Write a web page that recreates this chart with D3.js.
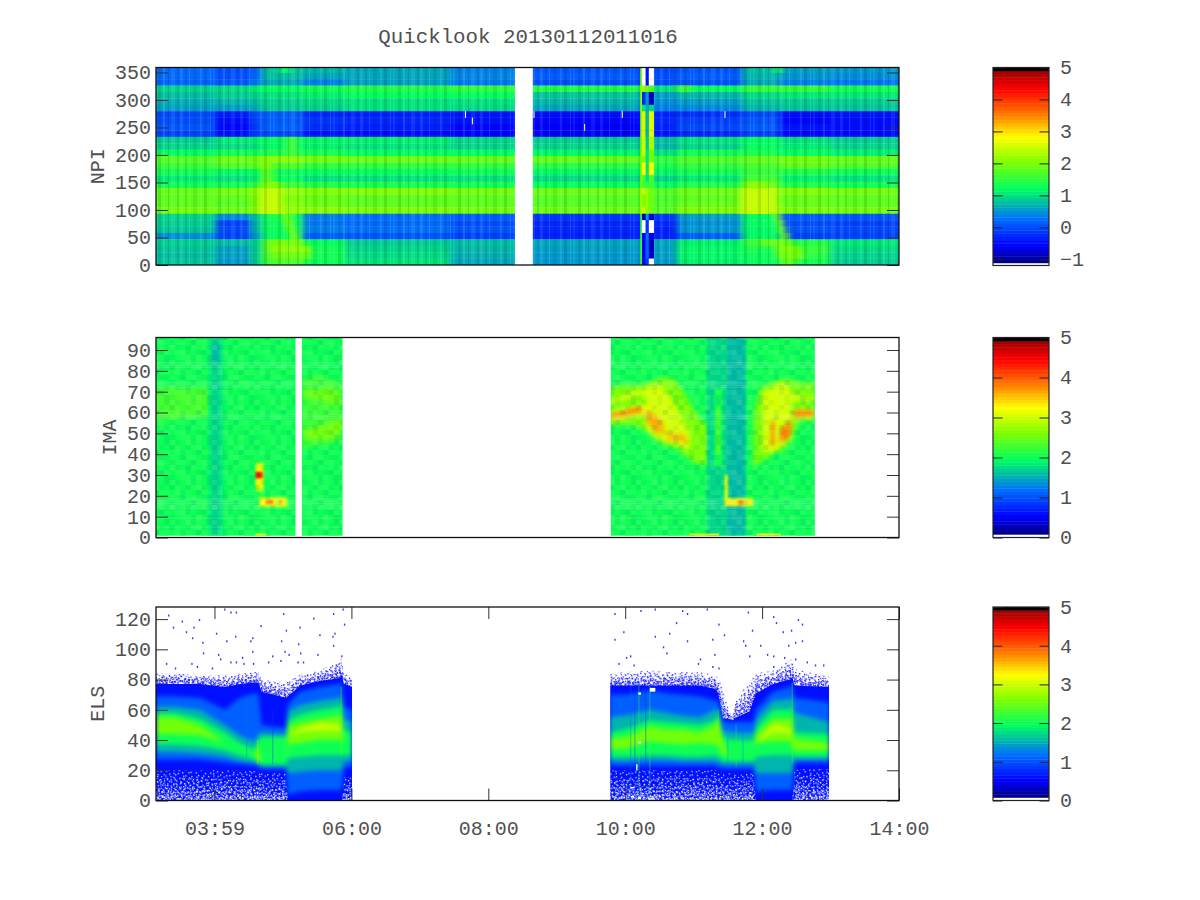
<!DOCTYPE html>
<html><head><meta charset="utf-8">
<script src="https://cdn.jsdelivr.net/npm/d3@7"></script>
<style>
html,body{margin:0;padding:0;background:#fff}
svg{display:block}
text{font-family:"Liberation Mono",monospace;fill:#505050}
</style></head><body><div id="chart"></div>
<script>
// ---------- labels ----------
const titleText = "Quicklook 20130112011016";
const xTickHours = [3.999, 6, 8, 10, 12, 14];
const xTickLabels = ["03:59", "06:00", "08:00", "10:00", "12:00", "14:00"];
const npiTicks = [0, 50, 100, 150, 200, 250, 300, 350];
const imaTicks = [0, 10, 20, 30, 40, 50, 60, 70, 80, 90];
const elsTicks = [0, 20, 40, 60, 80, 100, 120];
const npiBarTicks = [-1, 0, 1, 2, 3, 4, 5];
const npiBarLabels = ["−1", "0", "1", "2", "3", "4", "5"];
const otherBarTicks = [0, 1, 2, 3, 4, 5];

// ---------- palette ----------
const paletteStops = [0, .09, .227, .31, .38, .517, .645, .756, .89, .98];
const paletteColors = ["#000080", "#0000ff", "#0070ff", "#00c0a0", "#00ff60", "#80ff00", "#ffff00", "#ff8000", "#ff0000", "#a00000"];

// ---------- NPI: rows listed top first ----------
const npiRowHeight = 11.65;
const npiColEdges = [3.06, 4.02, 4.52, 4.69, 5.29, 5.91, 7.44, 8.46, 10.22, 10.76, 11.71, 12.26, 12.99, 14.09];
const npiRows = [
[.2,0,.2,.8,.7,.6,.35,.05,-.05,.05,.75,.55,.5],
[.2,0,.2,.75,.6,.6,.4,.1,0,.1,.7,.5,.45],
[.15,.05,.3,.6,.35,.55,.3,0,-.05,0,.6,.35,.3],
[.9,.95,1.1,1.2,1.3,1.4,1.5,1.4,1,1.2,1.5,1.5,1.3],
[.75,.85,.9,1,1.1,1.2,1.2,.8,.55,.7,.95,1.05,1.05],
[.65,.7,.75,.9,.95,1,1,.7,.45,.55,.8,.85,.85],
[.55,.55,.65,.85,.9,1,.95,.6,.35,.4,.7,.8,.8],
[-.05,-.4,0,.1,-.3,-.35,-.45,-.5,-.35,-.25,-.05,-.5,-.45],
[0,-.5,-.05,.1,-.2,-.3,-.45,-.55,-.3,-.1,.05,-.55,-.5],
[.05,-.55,-.1,.15,-.25,-.35,-.55,-.6,-.35,-.05,.1,-.45,-.5],
[-.1,-.5,-.15,-.05,-.45,-.5,-.6,-.65,-.45,-.3,-.1,-.55,-.55],
[.85,1.05,1.1,1.2,1.15,1.1,.9,.85,.75,1,1.2,1,.85],
[.9,.95,1,1.15,1.1,1,.9,.9,.7,.9,1.2,1.05,.9],
[1.2,1.3,1.3,1.4,1.35,1.2,1.2,1.15,1,1.3,1.35,1.2,1.1],
[1.75,1.9,1.9,2.1,1.95,1.9,1.85,1.85,1.5,1.7,1.85,1.95,1.85],
[1.55,1.7,1.8,1.7,1.5,1.5,1.5,1.45,1.35,1.5,1.65,1.8,1.7],
[1.3,1.15,1.2,1.25,1.2,1.2,1.25,1.15,1.15,1.3,1.5,1.35,1.25],
[1.05,1,1.1,1.2,1,1,1,.95,.9,1.05,1.6,1.1,1],
[1.3,1.3,1.5,1.6,1.4,1.35,1.3,1.25,1.2,1.4,1.9,1.4,1.3],
[1.85,1.95,2.1,2.15,2.05,2.05,1.95,1.9,1.75,1.9,2.2,2.05,1.95],
[1.8,1.8,2,2,1.85,1.8,1.8,1.75,1.65,1.8,2.15,1.85,1.8],
[1.8,1.75,2,2.05,1.9,1.8,1.8,1.75,1.7,1.85,2.2,1.85,1.8],
[1.95,1.9,2.1,2.15,2.1,2,1.95,1.9,1.75,2,2.25,2,1.95],
[.9,.4,.8,1.3,.35,.25,.1,-.2,-.2,.55,1.2,.1,.05],
[.85,-.1,.7,1.25,.3,.2,0,-.3,-.3,.45,1.2,0,-.1],
[.8,-.05,.7,1.25,.35,.25,.05,-.3,-.35,.5,1.15,.05,-.05],
[.45,-.1,.5,1.2,.1,.05,-.1,-.35,-.35,.1,1.15,-.1,-.1],
[.85,.75,.9,1.5,1.2,.85,.75,.6,.6,1.1,1.55,1.4,1.05],
[.8,.55,.85,1.7,1.3,.9,.7,.55,.55,1.15,1.35,1.55,.95],
[.75,.55,.85,1.6,1.3,.95,.65,.5,.55,1.15,1.25,1.45,.9],
[.8,.5,.85,1.55,1.25,1,.6,.5,.5,1.1,1.2,1.3,.85]];
// t0, t1, first row, last row (0 = bottom), value
const npiPatches = [
[4.66,4.98,8,11,2.45],[4.68,4.95,12,12,2.05],[4.68,4.85,13,14,1.8],[4.68,4.8,15,16,2.05],
[5,5.1,7,7,2],[5.03,5.13,6,6,2],[5.08,5.17,5,5,2],[5.1,5.22,4,4,1.9],
[4.75,5.3,3,3,1.95],[4.8,5.4,2,2,2.1],[4.8,5.4,1,1,1.9],[4.85,5.3,0,0,1.7],
[4.96,5.1,30,30,1.2],[5.05,5.2,17,19,1.6],
[11.68,12.18,8,11,2.45],[11.75,12.05,12,12,2.1],[12.19,12.26,7,7,2.1],[12.22,12.3,6,6,2],
[12.25,12.33,5,5,2],[12.28,12.38,4,4,1.9],[12,12.42,3,3,1.85],[12.2,12.55,2,2,2],
[12.22,12.6,1,1,1.95],[12.25,12.5,0,0,1.8],[12.2,12.28,30,30,1.3],[10.76,10.95,27,27,1.6]];
const npiGap = [8.39, 8.65];
const npiSpikeEdges = [[10.22,10.245],[10.245,10.3],[10.3,10.345],[10.345,10.42]];
// spike columns, top row first; null means no data
const npiSpike0 = [2,2,2,2.2,2.2,2.2,2.2,2.2,2.2,2.2,2.2,2,2,2,2,2,2,2,2,2.3,2.3,2.3,2.3,1.6,1.6,1.6,1.6,1.6,1.6,1.6,1.6];
const npiSpike1 = [null,null,null,2.2,-.3,-.3,1,2.5,2.5,2.5,2.5,2.5,2.5,2.5,2,2.8,2.8,1.6,1.6,2.4,2,2,2.4,-.9,null,null,-.6,-.6,-.6,-.6,-.6];
const npiSpike2 = [-.5,-.5,-.5,2,.5,.5,.6,.7,.7,.7,.7,.8,.8,1,1,1,1,1,1.5,2.2,2.2,2.2,2.2,.5,-.2,-.2,.3,.1,.1,.1,-.2];
const npiSpike3 = [null,null,null,1.7,-.9,-.9,.9,2.6,2.6,2.6,2.6,2.3,2.3,1.9,1.9,2.8,2.8,1.6,1.6,1.9,1.9,1.9,1.9,-.7,null,null,-.7,-.9,-.9,-.8,null];
const npiSpecks = [[7.66,23],[7.76,22],[9.95,23],[9.4,21],[11.45,23],[8.66,23]];
const npiStripeTile = [[0,3,.09],[5,2,-.09],[9,1,.13],[13,4,-.08],[20,2,.1],[24,3,-.11],[30,1,.12],[33,2,.07],[38,3,-.1],[43,2,.12],[48,1,-.13],[51,4,.08],[57,2,-.09]];

// ---------- IMA ----------
const imaSegments = [[3.145,5.183],[5.278,5.87],[9.79,12.77]];
const imaBase = 2.02;
const imaYMin = 0.9;
// value, times, lower edge, upper edge
const imaAreas = [
[2.3,[3.145,3.9,4.1],[56,58,60],[72,72,71]],
[2.25,[5.28,5.5,5.87],[43,44,46],[76,78,74]],
[2.55,[5.3,5.5,5.75,5.87],[47,47,47,52],[52,53,56,58]],
[2.5,[5.3,5.5,5.7,5.87],[67,66,64,64],[71,71,72,68]],
[2.6,[9.78,9.92,10.12,10.31,10.48,10.61,10.75,10.85,11,11.09,11.24,11.34],[54,54,54,51,46,44,43,40,36,35,35,42],[72,73,73,74,76,77,75,70,62,57,53,48]],
[3,[9.78,9.92,10.12,10.3],[64,65.5,67,68],[66,68,70,71]],
[3.05,[10.3,10.48,10.61,10.75,10.85,10.95],[52,47,46,44,43,43],[72,74,70,62,56,50]],
[3.2,[9.78,9.92,10.12,10.25,10.35],[56,56.5,58,59,58],[60.5,61.5,63,64,62]],
[3.85,[9.78,9.92,10.12,10.25],[57.5,58,59.5,60.5],[59.5,60,62,62.5]],
[3.6,[10.3,10.4,10.48,10.56],[56,52,50,50],[61,60,58,55]],
[3.5,[10.6,10.75,10.9],[47,46,45],[51,50,49]],
[2.55,[11.87,11.97,12.16,12.31,12.43,12.55,12.77],[34,36,40,42,46,56,56],[60,72,75,76,76,74,75]],
[3.05,[12,12.16,12.31,12.43],[41,41,44,48],[70,72,75,70]],
[3,[12.43,12.55,12.77],[65,65.5,66],[70,68,68]],
[3.3,[12.46,12.55,12.77],[56.5,57,57.5],[61.5,62,61.5]],
[3.9,[12.46,12.55,12.77],[58,58.3,58.7],[60.5,61,60.5]],
[3.8,[12.13,12.18],[44,44],[56,56]],
[3.8,[12.26,12.34,12.42],[45,47,49],[52,54,57]]];
// t0, t1, y0, y1, value
const imaRects = [
[3.905,4.15,.9,96,1.86],[3.96,4.08,.9,96,1.72],[3.96,4.08,84,93,1.58],
[11.19,11.77,.9,96,1.74],[11.49,11.75,.9,96,1.58],[11.3,11.42,34,72,2.05],[11.34,11.38,40,62,2.45],
[4.6,4.72,22,36,2.9],[4.62,4.7,24,35,3.3],[4.6,4.7,28.5,31.5,4.4],
[4.65,5.07,14.5,19.5,2.8],[4.67,5.03,15.5,18.5,3.25],[4.75,4.86,16,18,3.9],[4.95,5,16,18,3.6],
[11.45,11.5,17,30,3.1],[11.45,11.87,15,19,3],[11.47,11.85,15.5,18,3.35],[11.65,11.72,15.8,17.8,3.9]];
const imaBottomStrips = [[4.6,4.76,3.1],[10.94,11.37,3.3],[11.92,12.27,3.3]];
const imaLightRows = [84,83.2,82.4,81.7,74.5,73.7,72.9,72.1,58.8,58,57.2,18.6,17.9,17.1,16.3,15.5,14.7,13.9,9.3,5];
const imaTile = [1,-1,0,2,-1,1,0,-2, -2,1,0,-1,1,2,-1,0, 0,2,-1,1,0,-2,1,1, 1,0,-2,1,2,0,-1,-1, -1,1,1,0,-2,1,2,0, 2,-1,0,-2,1,0,1,-1, 0,1,2,-1,0,-1,-2,1, -1,0,1,1,-1,2,0,-2];

// ---------- ELS: edges per time knot ----------
// L1lo L2lo L3lo L4lo L5lo L6lo L6hi L5hi L4hi L3hi L2hi L1hi fringe
const elsLevelValues = [.62, 1.1, 1.55, 2.02, 2.55, 2.95];
const elsLeftT = [3.145,3.42,3.79,4.15,4.37,4.59,4.64,4.69,5.045,5.075,5.25,5.54,5.83,5.86,5.89,6.01];
const elsLeft = [
[21,27,32,37,44,48,48,55,58,62,69,78,84],
[21,27,32,37,44,48,48,55,58,62,69,78,84],
[21,27,31,36,43,46,46,50,54,60,68,78,83],
[21,25,29,33,38,38,38,38,45,50,60,76,83],
[21,24,26,30,32,32,32,32,38,43,68,78,84],
[21,23,25,27,29,29,29,29,34,39,71,79,85],
[20,22,24,25,26,33,33,38,40,44,70,79,85],
[19,21,22,24,24,24,24,24,42,45,50,73,80],
[19,21,22,24,24,24,24,24,42,44,48,69,78],
[0,4,18,28,37,42,42,49,53,59,64,70,79],
[0,6,19,29,38,45,48,52,57,63,72,77,83],
[0,7,20,30,40,46,52,54,60,66,75,80,86],
[0,7,20,30,40,46,50,56,62,68,77,82,93],
[0,7,20,30,40,46,46,57,66,70,78,84,94],
[16,22,26,30,36,36,36,36,47,54,62,78,84],
[16,22,26,30,36,36,36,36,45,52,60,76,82]];
const elsRightT = [9.78,10,10.36,10.6,10.85,11.09,11.31,11.36,11.43,11.5,11.56,11.63,11.82,11.88,11.91,12.16,12.41,12.44,12.47,12.98];
const elsRight = [
[21,23,26,29,34,37,37,41,45,55,70,77,84],
[21,23,26,29,34,38,38,42,47,56,70,77,85],
[21,23,27,30,39,43,43,49,53,60,73,77,86],
[21,23,27,30,38,42,42,47,52,58,71,77,85],
[21,23,26,29,37,41,41,47,51,56,70,77,85],
[21,23,26,29,38,41,41,45,50,55,69,77,85],
[21,23,26,30,37,42,42,50,53,60,66,75,83],
[20,22,25,29,36,42,42,55,57,61,66,72,81],
[19,21,24,26,30,34,34,40,42,46,52,55,74],
[19,21,24,26,30,30,30,30,41,46,52,55,62],
[19,21,24,26,30,30,30,30,40,45,52,54,56],
[19,21,24,26,30,30,30,30,40,45,52,56,68],
[19,21,24,26,30,30,30,30,40,45,52,60,79],
[19,21,24,26,30,30,30,30,40,45,52,68,82],
[0,6,18,29,38,38,38,44,48,54,60,72,84],
[0,7,18,30,39,45,51,54,60,66,72,78,86],
[0,7,18,30,39,44,48,54,60,67,75,81,93],
[0,7,18,30,36,42,42,56,64,70,78,83,94],
[22,25,27,29,33,37,37,41,45,58,68,77,87],
[22,25,27,29,33,36,36,38,44,52,65,76,82]];
const elsDotT = [3.32,3.52,3.77,3.39,3.69,3.58,4.02,4.3,3.67,3.82,4.17,4.52,4.55,4.67,5.04,5.24,5.53,5.75,5.72,5.89,5.44,5.73,5,4.23,4.31,4.14,5.87,4.97,5.22,5.73,3.83,4.05,4.4,4.55,4.84,5.02,5.08,5.25,5.5,5.85,4.08,3.29,3.66,4.23,4.31,4.42,4.56,4.78,4.96,5.21,5.29,5.77,3.42,3.74,3.96,
9.84,10.22,10.83,10.9,10.43,11.19,11.79,12.16,12.2,12.52,12.58,10.74,11.36,9.97,10.64,11.44,11.85,12.3,12.42,10.43,9.84,10.9,11.27,11.72,12.48,12.58,12.38,11.97,10.55,11.75,10.6,11.3,10.07,11.81,12.07,12.16,10.01,12.32,11.09,12.48,12.65,9.9,11.06,11.27,12.77,12.89,10.12,11.36,12.16];
const elsDotY = [123,119,120,115,115,112,111,109,108,105,106,106,108,116,113,115,110,111,109,117,121,124,124,125,125,127,127,106,104,103,98,97,95,99,96,99,97,98,97,96,94,91,91,92,92,91,91,92,93,92,92,90,88,89,88,
124,126,126,124,127,127,125,122,118,120,117,118,117,112,111,110,113,112,113,109,107,106,107,106,105,106,103,103,102,103,98,97,96,96,97,96,95,95,94,94,92,91,91,89,90,90,90,88,89];
// t, y0, y1, value
const elsStreaks = [[10.08,0,80,1.1],[10.14,0,78,.8],[10.2,0,78,2.2],[10.3,0,78,.7],[10.36,0,76,2.3],[11.36,30,60,2.5],[11.5,24,45,1.3],[11.62,22,50,2.2],[11.72,24,48,1.2],[12.44,25,78,2.6],[4.47,28,70,1.2],[4.63,24,40,2.9],[5.85,30,75,2.6],[4.85,24,60,.85]];
// t0, t1, y0, y1
const elsHoles = [[10.36,10.44,72,74.5],[10.19,10.23,70,71.5],[10.19,10.23,37.5,39],[10.08,10.13,8,9],[10.08,10.13,2,3],[10.19,10.23,1,2.5],[10.33,10.43,.5,1.5],[10.16,10.18,20,24]];
const stippleTile = [[1,2],[6,1],[11,3],[17,0],[21,2],[3,6],[9,5],[14,7],[19,5],[23,7],[0,10],[5,9],[8,11],[13,10],[18,9],[22,11],[2,14],[7,13],[12,15],[16,13],[20,15],[4,18],[10,17],[15,19],[19,18],[23,20],[1,21],[6,20],[11,22],[17,22],[21,23],[3,23],[8,16],[14,2],[22,5],[5,4],[12,12],[18,16],[0,16],[9,20]];

// ---------- drawing ----------
const W = 1200, H = 900, left = 156, right = 899;
const x = d3.scaleLinear([3.145, 14], [left, right]);
const ramp = d3.scaleLinear(paletteStops, paletteColors).clamp(true);
const colorFor = (v, vmin) => ramp((v - vmin) / (5 - vmin));
const svg = d3.select("#chart").append("svg").attr("width", W).attr("height", H).attr("viewBox", [0, 0, W, H]);
svg.append("rect").attr("width", W).attr("height", H).attr("fill", "#fff");
const defs = svg.append("defs");
function blur(id, sd) {
  defs.append("filter").attr("id", id).attr("x", "-10%").attr("y", "-10%").attr("width", "120%").attr("height", "120%")
    .attr("color-interpolation-filters", "sRGB").append("feGaussianBlur").attr("stdDeviation", sd);
}
blur("hblur", "3.5 0"); blur("b1", .9); blur("bA", 2.2); blur("b2", 2.2);
function clip(id, rects) {
  const c = defs.append("clipPath").attr("id", id);
  rects.forEach(r => c.append("rect").attr("x", r[0]).attr("y", r[1]).attr("width", r[2]).attr("height", r[3]));
}
function stipplePattern(id, color, rot, dx, op) {
  const p = defs.append("pattern").attr("id", id).attr("patternUnits", "userSpaceOnUse").attr("width", 24).attr("height", 24)
    .attr("patternTransform", `translate(${dx},${dx * 2}) rotate(${rot})`);
  p.selectAll("rect").data(stippleTile).join("rect").attr("x", d => d[0]).attr("y", d => d[1]).attr("width", 1.3).attr("height", 1.3).attr("fill", color).attr("opacity", op);
}
[["A", 17, 0], ["B", -33, 7], ["C", 61, 15], ["D", 104, 3], ["E", -71, 11], ["F", 142, 19]].forEach(([n, r, d]) => {
  stipplePattern("w" + n, "#fff", r, d, .85);
  stipplePattern("f" + n, "#1a1aff", r, d, 1);
});

// NPI
const yN = d3.scaleLinear([0, 359], [265, 67.5]);
clip("cN", [[left, 67.5, right - left, 197.5]]);
const gN = svg.append("g").attr("clip-path", "url(#cN)");
const gNb = gN.append("g").attr("filter", "url(#hblur)");
const nRows = npiRows.length;
const npiCells = [];
npiRows.forEach((row, i) => row.forEach((v, j) => npiCells.push({ t0: npiColEdges[j], t1: npiColEdges[j + 1], r: nRows - 1 - i, v })));
npiPatches.forEach(p => d3.range(p[2], p[3] + 1).forEach(r => npiCells.push({ t0: p[0], t1: p[1], r, v: p[4] })));
const rowY = r => yN((r + 1) * npiRowHeight);
const rowH = r => yN(r * npiRowHeight) - yN((r + 1) * npiRowHeight) + .3;
gNb.selectAll("rect").data(npiCells).join("rect")
  .attr("x", d => x(d.t0)).attr("width", d => x(d.t1) - x(d.t0) + .5)
  .attr("y", d => rowY(d.r)).attr("height", d => rowH(d.r)).attr("fill", d => colorFor(d.v, -1.15));
const stripeP = defs.append("pattern").attr("id", "npiStripes").attr("patternUnits", "userSpaceOnUse").attr("width", 60).attr("height", 10);
stripeP.selectAll("rect").data(npiStripeTile).join("rect").attr("x", d => d[0]).attr("width", d => d[1]).attr("height", 10)
  .attr("fill", d => d[2] > 0 ? "#fff" : "#000").attr("opacity", d => Math.abs(d[2]));
gN.append("rect").attr("x", left).attr("y", 67).attr("width", right - left).attr("height", 199).attr("fill", "url(#npiStripes)");
gN.append("rect").attr("x", x(npiGap[0])).attr("width", x(npiGap[1]) - x(npiGap[0])).attr("y", 67).attr("height", 199).attr("fill", "#fff");
[npiSpike0, npiSpike1, npiSpike2, npiSpike3].forEach((col, k) => {
  gN.append("g").selectAll("rect").data(col.map((v, i) => ({ v, r: nRows - 1 - i }))).join("rect")
    .attr("x", x(npiSpikeEdges[k][0])).attr("width", x(npiSpikeEdges[k][1]) - x(npiSpikeEdges[k][0]))
    .attr("y", d => rowY(d.r)).attr("height", d => rowH(d.r))
    .attr("fill", d => d.v === null ? "#fff" : colorFor(d.v, -1.15));
});
gN.append("g").selectAll("rect").data(npiSpecks).join("rect")
  .attr("x", d => x(d[0])).attr("width", 1).attr("y", d => rowY(d[1])).attr("height", d => rowH(d[1])).attr("fill", "#fff");

// IMA
const yI = d3.scaleLinear([0, 96], [537.5, 337.5]);
clip("cI", imaSegments.map(s => [x(s[0]), yI(96), x(s[1]) - x(s[0]), yI(imaYMin) - yI(96)]));
const gI = svg.append("g").attr("clip-path", "url(#cI)");
gI.append("rect").attr("x", left - 10).attr("y", 330).attr("width", 760).attr("height", 215).attr("fill", colorFor(imaBase, .08));
const gIa = gI.append("g").attr("filter", "url(#bA)");
const imaArea = d3.area().x(d => x(d[0])).y0(d => yI(d[1])).y1(d => yI(d[2]));
gIa.selectAll("path.a").data(imaAreas).join("path").attr("class", "a")
  .attr("d", a => imaArea(a[1].map((t, i) => [t, a[2][i], a[3][i]]))).attr("fill", a => colorFor(a[0], .08));
const gIb = gI.append("g").attr("filter", "url(#b1)");
gIb.selectAll("rect.r").data(imaRects).join("rect").attr("class", "r")
  .attr("x", d => x(d[0])).attr("width", d => x(d[1]) - x(d[0]))
  .attr("y", d => yI(d[3])).attr("height", d => yI(d[2]) - yI(d[3])).attr("fill", d => colorFor(d[4], .08));
gI.selectAll("rect.s").data(imaBottomStrips).join("rect").attr("class", "s")
  .attr("x", d => x(d[0])).attr("width", d => x(d[1]) - x(d[0])).attr("y", yI(imaYMin + 1)).attr("height", yI(imaYMin) - yI(imaYMin + 1)).attr("fill", d => colorFor(d[2], .08));
const tile = defs.append("pattern").attr("id", "imaTile").attr("patternUnits", "userSpaceOnUse").attr("width", 42.4).attr("height", 40);
tile.selectAll("rect").data(imaTile).join("rect").attr("x", (d, i) => (i % 8) * 5.3).attr("y", (d, i) => Math.floor(i / 8) * 5)
  .attr("width", 5.3).attr("height", 5).attr("fill", d => d > 0 ? "#c0ffa0" : "#008878").attr("opacity", d => Math.abs(d) * .075);
gI.append("rect").attr("x", left - 10).attr("y", 330).attr("width", 760).attr("height", 215).attr("fill", "url(#imaTile)");
gI.selectAll("line").data(imaLightRows).join("line").attr("x1", left).attr("x2", right).attr("y1", d => yI(d)).attr("y2", d => yI(d))
  .attr("stroke", "#fff").attr("stroke-opacity", .16).attr("stroke-width", 1);

// ELS
const yE = d3.scaleLinear([0, 128], [800.5, 607]);
const elsSegs = [[elsLeftT, elsLeft], [elsRightT, elsRight]];
clip("cE", elsSegs.map(s => [x(s[0][0]), 600, x(s[0][s[0].length - 1]) - x(s[0][0]), 201]));
const gE = svg.append("g").attr("clip-path", "url(#cE)");
const eArea = (lo, hi) => d3.area().x(d => x(d.t)).y0(d => yE(lo(d.e))).y1(d => yE(hi(d.e)));
elsSegs.forEach(([ts, edges]) => {
  const knots = ts.map((t, i) => ({ t, e: edges[i] }));
  const stip = (lo, hi, id) => gE.append("path").attr("d", eArea(lo, hi)(knots)).attr("fill", `url(#${id})`);
  // upper fringe, denser towards the solid band
  [["fA", 1], ["fB", .8], ["fC", .62], ["fD", .46], ["fE", .32], ["fF", .2]].forEach(([id, f]) =>
    stip(e => e[11] - 2, e => e[11] + (e[12] - e[11]) * f, id));
  gE.append("path").attr("d", eArea(e => 0, e => e[11] - 1)(knots)).attr("fill", colorFor(elsLevelValues[0], .08));
  // lower speckle, denser towards the axis
  [["wA", .95], ["wB", .7], ["wC", .45], ["wD", .3], ["wE", .16], ["wF", .1]].forEach(([id, f]) =>
    stip(e => 0, e => e[0] * f, id));
  const gB = gE.append("g").attr("filter", "url(#b2)");
  elsLevelValues.slice(1).forEach((v, k) => {
    gB.append("path").attr("d", eArea(e => e[k + 1], e => e[10 - k])(knots)).attr("fill", colorFor(v, .08));
  });
});
gE.selectAll("line.st").data(elsStreaks).join("line").attr("class", "st").attr("x1", d => x(d[0])).attr("x2", d => x(d[0]))
  .attr("y1", d => yE(d[1])).attr("y2", d => yE(d[2])).attr("stroke", d => colorFor(d[3], .08)).attr("stroke-width", 1.2).attr("stroke-opacity", .35);
gE.selectAll("rect.h").data(elsHoles).join("rect").attr("class", "h").attr("x", d => x(d[0])).attr("width", d => x(d[1]) - x(d[0]))
  .attr("y", d => yE(d[3])).attr("height", d => yE(d[2]) - yE(d[3])).attr("fill", "#fff");
svg.append("g").selectAll("rect").data(elsDotT).join("rect").attr("x", d => x(d)).attr("y", (d, i) => yE(elsDotY[i]))
  .attr("width", 1.4).attr("height", 2).attr("fill", "#3a3ae8");

// axes
const labelFont = '"Liberation Mono",monospace';
function frame(y, ticks, label, labelX, showX) {
  const [b, t] = y.range();
  const g = svg.append("g");
  g.append("g").attr("transform", `translate(${left},0)`).call(d3.axisLeft(y).tickValues(ticks).tickSizeInner(-12).tickSizeOuter(0).tickPadding(5));
  g.append("g").attr("transform", `translate(${right},0)`).call(d3.axisRight(y).tickValues(ticks).tickSizeInner(-12).tickSizeOuter(0).tickFormat(""));
  if (showX) {
    g.append("g").attr("transform", `translate(0,${t})`).call(d3.axisBottom(x).tickValues(xTickHours).tickSizeInner(12).tickSizeOuter(0).tickFormat(""));
    g.append("g").attr("transform", `translate(0,${b})`).call(d3.axisBottom(x).tickValues(xTickHours).tickSizeInner(-12).tickSizeOuter(0).tickPadding(20).tickFormat((d, i) => xTickLabels[i]));
  }
  g.selectAll(".domain").remove();
  g.selectAll("line").attr("stroke", "#333");
  g.selectAll("text").attr("font-size", 20).attr("font-family", labelFont).attr("fill", "#505050");
  g.append("rect").attr("x", left).attr("y", t).attr("width", right - left).attr("height", b - t).attr("fill", "none").attr("stroke", "#111").attr("stroke-width", 1.3);
  svg.append("text").attr("transform", `translate(${labelX},${(t + b) / 2}) rotate(-90)`).attr("text-anchor", "middle").attr("font-size", 20).text(label);
}
frame(yN, npiTicks, "NPI", 104, false);
frame(yI, imaTicks, "IMA", 116, false);
frame(yE, elsTicks, "ELS", 104, true);

// colour bars
function colorBar(scale, vmin, ticks, labels, yBottom) {
  const bx0 = 993, bx1 = 1049, n = 60;
  const g = svg.append("g");
  const top = scale(5), step = (scale(vmin) - top) / n;
  g.selectAll("rect").data(d3.range(n)).join("rect").attr("x", bx0).attr("width", bx1 - bx0)
    .attr("y", i => scale(vmin) - (i + 1) * step).attr("height", step + .4)
    .attr("fill", i => { const f = (i + .5) / n; return f > .983 ? "#000" : ramp(f); });
  g.append("g").attr("transform", `translate(${bx0},0)`).call(d3.axisRight(scale).tickValues(ticks).tickSizeInner(9.5).tickSizeOuter(0).tickFormat(""));
  g.append("g").attr("transform", `translate(${bx1},0)`).call(d3.axisRight(scale).tickValues(ticks).tickSizeInner(-9.5).tickSizeOuter(0).tickPadding(11).tickFormat((d, i) => labels[i]));
  g.selectAll(".domain").remove();
  g.selectAll("line").attr("stroke", "#222");
  g.selectAll("text").attr("font-size", 20).attr("font-family", labelFont).attr("fill", "#505050");
  g.append("rect").attr("x", bx0).attr("y", top).attr("width", bx1 - bx0).attr("height", yBottom - top).attr("fill", "none").attr("stroke", "#222").attr("stroke-width", 1.2);
}
colorBar(d3.scaleLinear([-1, 5], [259.3, 67.5]), -1.11, npiBarTicks, npiBarLabels, 265.5);
colorBar(d3.scaleLinear([0, 5], [537.5, 337.5]), .08, otherBarTicks, otherBarTicks.map(String), 537.5);
colorBar(d3.scaleLinear([0, 5], [800.5, 607]), .08, otherBarTicks, otherBarTicks.map(String), 800.5);

svg.append("text").attr("x", 528).attr("y", 43).attr("text-anchor", "middle").attr("font-size", 20.8).text(titleText);
</script></body></html>
